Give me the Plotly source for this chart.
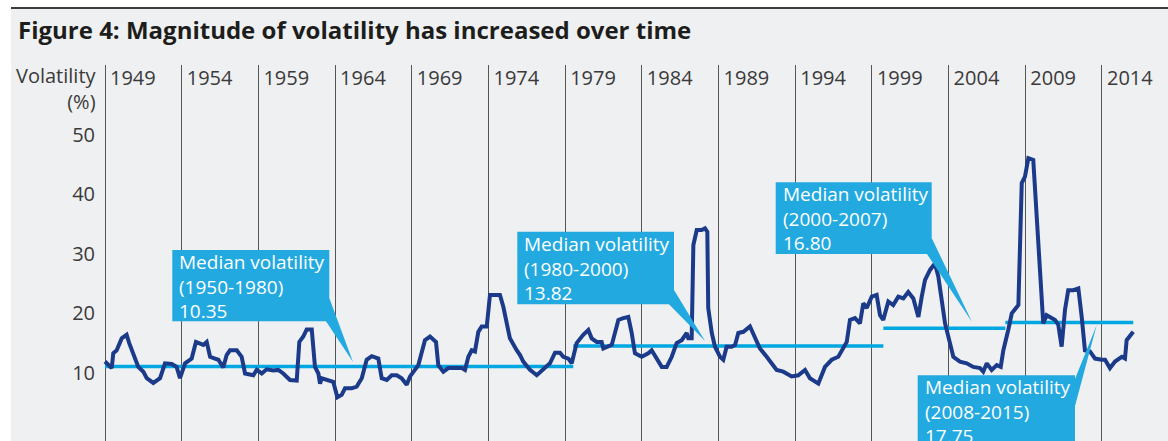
import plotly.graph_objects as go

# ---- Data -----------------------------------------------------------------
years = [
    1949.00, 1949.44, 1949.54, 1949.76, 1950.09, 1950.41, 1950.58, 1950.85,
    1951.17, 1951.50, 1951.72, 1952.15, 1952.59, 1952.91, 1953.35, 1953.67,
    1953.89, 1954.22, 1954.65, 1954.93, 1955.19, 1955.41, 1955.63, 1955.85,
    1956.17, 1956.39, 1956.71, 1956.93, 1957.15, 1957.59, 1957.91, 1958.13,
    1958.67, 1958.89, 1959.22, 1959.54, 1959.97, 1960.30, 1960.62, 1961.06,
    1961.50, 1961.67, 1961.93, 1962.15, 1962.48, 1962.69, 1962.91, 1963.02,
    1963.13, 1963.56, 1963.88, 1964.15, 1964.43, 1964.65, 1965.08, 1965.41,
    1965.74, 1966.06, 1966.39, 1966.82, 1967.04, 1967.37, 1967.69, 1968.02,
    1968.34, 1968.67, 1968.89, 1969.43, 1969.65, 1969.86, 1970.19, 1970.58,
    1970.73, 1971.06, 1971.38, 1971.93, 1972.26, 1972.47, 1972.69, 1972.91,
    1973.12, 1973.34, 1973.56, 1973.89, 1974.10, 1974.43, 1974.75, 1974.97,
    1975.19, 1975.40, 1975.84, 1976.06, 1976.27, 1976.71, 1977.15, 1977.58,
    1978.01, 1978.34, 1978.66, 1978.88, 1979.21, 1979.43, 1979.53, 1979.75,
    1980.18, 1980.51, 1980.73, 1981.06, 1981.38, 1981.49, 1982.04, 1982.25,
    1982.47, 1982.79, 1983.12, 1983.34, 1983.55, 1983.99, 1984.42, 1984.64,
    1984.97, 1985.30, 1985.62, 1985.95, 1986.27, 1986.60, 1986.93, 1987.03,
    1987.25, 1987.36, 1987.58, 1987.90, 1988.12, 1988.27, 1988.33, 1988.56,
    1988.77, 1989.10, 1989.31, 1989.53, 1989.86, 1990.08, 1990.29, 1990.62,
    1991.05, 1991.27, 1991.70, 1992.14, 1992.47, 1992.79, 1993.22, 1993.77,
    1994.20, 1994.64, 1994.96, 1995.51, 1995.94, 1996.38, 1996.81, 1997.14,
    1997.36, 1997.57, 1997.90, 1998.22, 1998.44, 1998.66, 1998.99, 1999.31,
    1999.53, 1999.74, 2000.07, 2000.39, 2000.72, 2001.05, 2001.37, 2001.70,
    2002.03, 2002.25, 2002.46, 2002.79, 2003.11, 2003.33, 2003.55, 2003.77,
    2004.09, 2004.31, 2004.74, 2005.18, 2005.61, 2006.05, 2006.26, 2006.49,
    2006.81, 2007.14, 2007.40, 2007.57, 2007.89, 2008.12, 2008.55, 2008.66,
    2008.77, 2008.98, 2009.20, 2009.52, 2009.75, 2009.96, 2010.17, 2010.39,
    2010.61, 2010.94, 2011.15, 2011.37, 2011.59, 2011.80, 2012.13, 2012.46,
    2012.68, 2012.89, 2013.22, 2013.55, 2013.98, 2014.20, 2014.52, 2014.85,
    2015.29, 2015.50, 2015.61, 2015.83, 2016.04,
]
volatility = [
    11.2, 10.1, 12.6, 13.1, 15.1, 15.7, 14.3, 12.6,
    10.3, 9.5, 8.4, 7.6, 8.4, 10.9, 10.8, 10.3,
    8.4, 10.9, 11.7, 14.5, 14.3, 14.0, 14.5, 12.0,
    11.7, 11.5, 10.2, 12.3, 13.1, 13.1, 12.0, 9.2,
    8.9, 9.8, 9.2, 9.9, 9.7, 9.8, 9.2, 8.1,
    8.0, 14.5, 15.4, 16.6, 16.6, 10.3, 9.2, 7.5,
    8.4, 8.0, 7.8, 5.2, 5.6, 6.7, 6.7, 7.0,
    8.4, 11.5, 12.1, 11.7, 8.4, 8.1, 8.9, 8.9,
    8.4, 7.3, 8.7, 10.6, 12.6, 14.8, 15.4, 14.5,
    10.6, 9.5, 10.1, 10.1, 10.1, 9.8, 12.0, 13.1,
    12.9, 16.2, 17.1, 17.1, 22.4, 22.4, 22.4, 20.4,
    17.6, 15.1, 13.1, 12.3, 11.2, 9.8, 8.9, 9.8,
    10.9, 12.7, 12.7, 12.0, 11.7, 10.9, 12.0, 14.3,
    15.7, 16.5, 15.1, 14.5, 14.5, 13.4, 14.0, 16.0,
    18.2, 18.5, 18.7, 16.0, 12.6, 12.0, 12.6, 13.1,
    11.7, 10.3, 10.3, 12.0, 14.3, 14.8, 16.0, 15.1,
    15.1, 30.8, 33.3, 33.3, 33.6, 33.0, 20.2, 16.0,
    13.7, 12.0, 11.5, 13.7, 13.7, 14.0, 16.0, 16.2,
    17.1, 15.7, 13.4, 12.0, 10.9, 9.8, 9.5, 8.7,
    8.9, 9.8, 8.4, 7.5, 10.3, 11.5, 12.0, 13.7,
    14.5, 18.2, 18.5, 17.6, 21.0, 20.2, 22.1, 22.4,
    19.0, 18.2, 21.3, 20.7, 22.1, 21.8, 22.9, 21.8,
    18.7, 22.1, 24.9, 26.6, 27.7, 25.5, 21.0, 17.6,
    14.3, 12.0, 11.2, 10.9, 10.3, 10.1, 9.5, 10.9,
    9.8, 10.6, 10.3, 13.1, 16.5, 19.3, 20.7, 30.0,
    41.2, 42.3, 45.4, 45.1, 35.5, 26.6, 17.6, 19.0,
    18.7, 18.2, 17.4, 13.7, 19.9, 23.2, 23.2, 23.5,
    18.7, 13.1, 12.9, 11.7, 11.5, 11.5, 10.1, 11.2,
    12.0, 11.7, 14.8, 15.4, 16.2,
]

# Median volatility for each period: start year, end year, value, label
median_start = [1949.0, 1979.53, 1999.75, 2007.7]
median_end = [1979.53, 1999.75, 2007.7, 2016.04]
median_value = [10.35, 13.82, 16.80, 17.75]
median_period = ["1950-1980", "1980-2000", "2000-2007", "2008-2015"]

year_ticks = [1949, 1954, 1959, 1964, 1969, 1974, 1979, 1984, 1989, 1994,
              1999, 2004, 2009, 2014]
value_ticks = [10, 20, 30, 40, 50]

# ---- Page geometry ----------------------------------------------------------
W, H = 1168, 441
M_L, M_T = 100, 65
PW, PH = W - M_L, H - M_T
PX_PER_YEAR = 15.338
PX_PER_UNIT = 5.95


def xd(px):
    """pixel column -> year"""
    return 1949 + (px - 105) / PX_PER_YEAR


def yd(py):
    """pixel row -> volatility"""
    return 10 + (368.7 - py) / PX_PER_UNIT


def xp(px):
    return (px - M_L) / PW


def yp(py):
    return (H - py) / PH


BG = "#eff0f2"
NAVY = "#1b3a8a"
CYAN_LINE = "#00a7e1"
BOX = "#22a9df"
TEXT = "#3a3a3a"
FONT = "Open Sans"

fig = go.Figure()

for x0, x1, v in zip(median_start, median_end, median_value):
    fig.add_trace(go.Scatter(
        x=[x0, x1], y=[v, v], mode="lines",
        line=dict(color=CYAN_LINE, width=3.5),
        hoverinfo="skip", showlegend=False,
    ))

fig.add_trace(go.Scatter(
    x=years, y=volatility, mode="lines",
    line=dict(color=NAVY, width=4, shape="linear"),
    showlegend=False,
))

shapes = []
annotations = []

# page frame: white left strip, white top strip, rule under it
shapes.append(dict(type="rect", xref="paper", yref="paper",
                   x0=xp(-5), x1=xp(11), y0=yp(H + 5), y1=yp(-5),
                   fillcolor="white", line_width=0, layer="below"))
shapes.append(dict(type="rect", xref="paper", yref="paper",
                   x0=xp(-5), x1=xp(W + 5), y0=yp(7), y1=yp(-5),
                   fillcolor="white", line_width=0, layer="below"))
shapes.append(dict(type="line", xref="paper", yref="paper",
                   x0=xp(11), x1=xp(W + 5), y0=yp(8), y1=yp(8),
                   line=dict(color="#3c3c3b", width=2)))

# callout boxes (left, top, right, bottom in px) and pointer wedges
boxes = [
    (172.3, 250.0, 329.3, 321.3),
    (517.3, 231.7, 674.0, 304.3),
    (775.7, 182.3, 931.7, 254.0),
    (917.7, 375.3, 1075.0, 447.0),
]
wedges = [
    [(353.0, 362.0), (329.3, 298.0), (326.0, 321.3)],
    [(705.0, 341.0), (674.0, 290.0), (669.0, 304.3)],
    [(972.0, 322.0), (931.7, 238.0), (927.0, 254.0)],
    [(1096.7, 325.0), (1075.0, 379.0), (1075.0, 406.0)],
]

for (l, t, r, b), w, period, v in zip(boxes, wedges, median_period, median_value):
    path = "M {} {} L {} {} L {} {} Z".format(
        xd(w[0][0]), yd(w[0][1]), xd(w[1][0]), yd(w[1][1]),
        xd(w[2][0]), yd(w[2][1]))
    shapes.append(dict(type="path", path=path, xref="x", yref="y",
                       fillcolor=BOX, line_width=0))
    shapes.append(dict(type="rect", xref="x", yref="y",
                       x0=xd(l), x1=xd(r), y0=yd(b), y1=yd(t),
                       fillcolor=BOX, line_width=0))
    annotations.append(dict(
        xref="x", yref="y", x=xd(l + 5), y=yd(t - 3),
        xanchor="left", yanchor="top", align="left", showarrow=False,
        text="Median volatility<br>({})<br>{:.2f}".format(period, v),
        font=dict(family=FONT, size=19, color="white"),
    ))

# title and axis caption
annotations.append(dict(
    xref="paper", yref="paper", x=xp(16), y=yp(29),
    xanchor="left", yanchor="middle", showarrow=False,
    text="<b>Figure 4: Magnitude of volatility has increased over time</b>",
    font=dict(family=FONT, size=24, color="#1d1d1b"),
))
annotations.append(dict(
    xref="paper", yref="paper", x=xp(99), y=yp(60.5),
    xanchor="right", yanchor="top", align="right", showarrow=False,
    text="Volatility<br>(%)", font=dict(family=FONT, size=20, color=TEXT),
))

fig.update_layout(
    width=W, height=H,
    margin=dict(l=M_L, r=0, t=M_T, b=0, pad=0),
    paper_bgcolor=BG, plot_bgcolor=BG,
    shapes=shapes, annotations=annotations,
    xaxis=dict(
        range=[xd(M_L), xd(W)], side="top",
        tickvals=year_ticks, ticktext=[str(y) for y in year_ticks],
        ticklabelposition="inside right", ticks="",
        ticklabelshift=5,
        tickfont=dict(family=FONT, size=20, color=TEXT),
        showgrid=True, gridcolor="#555555", gridwidth=1.4,
        zeroline=False, showline=False, fixedrange=True,
    ),
    yaxis=dict(
        range=[yd(H), yd(M_T)],
        tickvals=value_ticks, ticks="",
        tickfont=dict(family=FONT, size=20, color=TEXT),
        ticklabelstandoff=4, ticklabelshift=4,
        showgrid=False, zeroline=False, showline=False, fixedrange=True,
    ),
    font=dict(family=FONT),
)

fig.write_html("out.html")
